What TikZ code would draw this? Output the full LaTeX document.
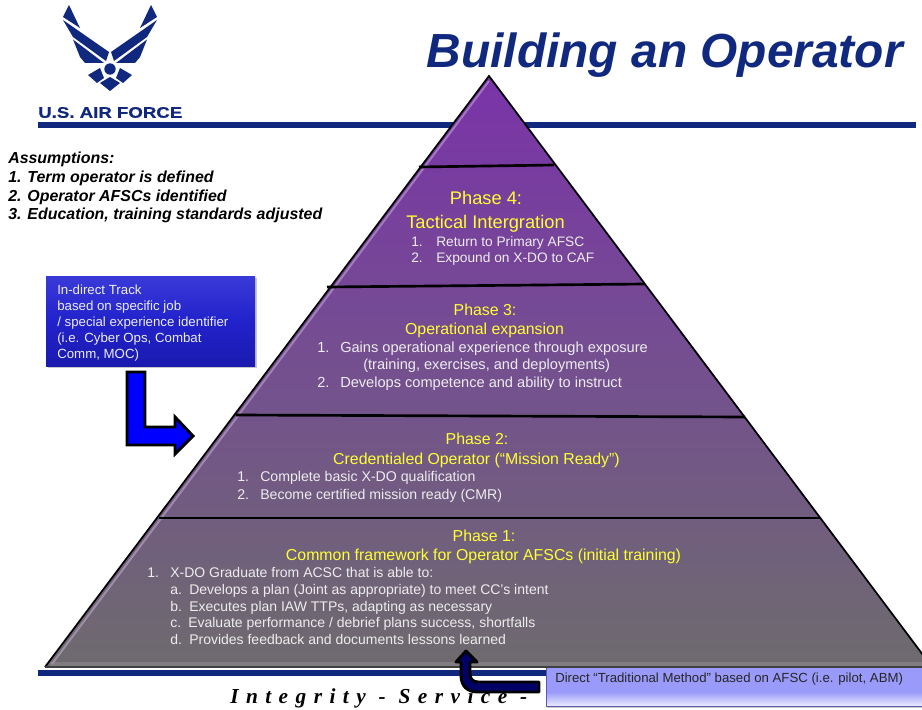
\documentclass[tikz,border=0pt]{standalone}
\usepackage{fontspec}
\setmainfont{Liberation Sans}
\newfontfamily\serifbi[LetterSpace=35,Ligatures=NoCommon]{Liberation Serif}
\newfontfamily\wide[FakeStretch=1.216,FakeBold=0.6]{Liberation Sans}
\usetikzlibrary{calc,shadings}
\definecolor{navy}{HTML}{10297F}
\definecolor{ptop}{HTML}{7A33A8}
\definecolor{pmid}{HTML}{74508F}
\definecolor{pbot}{HTML}{6E6B6E}
\definecolor{phaseyellow}{HTML}{FFFF33}
\definecolor{bodywhite}{HTML}{EDEDED}
\definecolor{itop}{HTML}{3A3AD8}
\definecolor{imid}{HTML}{2222CC}
\definecolor{ibot}{HTML}{1A1AB0}
\definecolor{dmain}{HTML}{9A9AFA}
\definecolor{dlow}{HTML}{ECECFF}
\tikzset{
  phasehead/.style={text=phaseyellow,anchor=center,inner sep=0pt,yshift=-2.25pt,text height=.72em,text depth=.2em,font=\fontsize{#1}{#1}\selectfont},
  bodytext/.style={text=bodywhite,anchor=west,inner sep=0pt,yshift=-1.5pt,text height=.72em,text depth=.2em,font=\fontsize{#1}{#1}\selectfont},
  assume/.style={anchor=west,inner sep=0pt,yshift=-1.9pt,text height=.72em,text depth=.2em,font=\fontsize{11.95pt}{11.95pt}\selectfont\bfseries\itshape},
  divider/.style={line width=2pt,black},
  blockarrow/.style={draw=black,line width=2.2pt,line join=miter},
  logoshape/.style={fill=navy,draw=none}
}
\begin{document}
\begin{tikzpicture}[x=0.75pt,y=-0.75pt]
\useasboundingbox (0,0) rectangle (922,710);
\fill[white] (0,0) rectangle (922,710);
% rules
\fill[navy] (38,122) rectangle (916,128);
\fill[navy] (38,670) rectangle (560,676);
% logo
\foreach \s in {1,-1}{
\begin{scope}[shift={(110,0)},xscale=\s]
 \fill[logoshape] (-41,5) -- (-47,17) -- (-30,28) -- cycle;
 \fill[logoshape] (-47,20) -- (-1,52) -- (-4,61) -- (-37,37) -- cycle;
 \fill[logoshape] (-37,39.5) -- (-6,63) -- (-25,63) -- (-30,57) -- cycle;
 \fill[logoshape] (-22,75) -- (-10,68) -- (-6,78) -- (-13,83) -- cycle;
\end{scope}}
\fill[logoshape] (110,69) circle (5.7);
\fill[logoshape] (110,77) -- (120,83) -- (110,91) -- (100,83) -- cycle;
\node[inner sep=0pt,anchor=west,text=navy,font=\wide\fontsize{11.5pt}{11.5pt}\selectfont\bfseries] (usaf) at (38,112.5) {U.S. AIR FORCE};
% title
\node[inner sep=0pt,anchor=east,text=navy,font=\fontsize{35.9pt}{35.9pt}\selectfont\bfseries\itshape] (title) at (903,55.5) {Building an Operator};
% assumptions
\node[assume] (a0) at (8,157) {Assumptions:};
\node[assume] (a1) at (8,176) {1. Term operator is defined};
\node[assume] (a2) at (8,195) {2. Operator AFSCs identified};
\node[assume] (a3) at (8,213.5) {3. Education, training standards adjusted};
% footer motto
\node[inner sep=0pt,anchor=west,font=\serifbi\fontsize{16pt}{16pt}\selectfont\bfseries\itshape] (motto) at (230,698) {Integrity - Service -};
% pyramid
\path[top color=ptop,bottom color=pbot,middle color=pmid] (489,76) -- (932,667) -- (45,667) -- cycle;
\draw[line width=1.3pt,black,line join=miter] (932,667) -- (489,76) -- (45,667);
\draw[line width=1.4pt,white!65!ptop,opacity=.5] (489,81) -- (52,664);
\draw[line width=1.5pt,black!75] (45,667) -- (932,667);
\draw[line width=3pt,black!40,opacity=.4] (50,664) -- (925,664);
\draw[divider] (419,167) -- (554,165);
\draw[divider] (327,287) -- (645,284);
\draw[divider] (236,415) -- (745,417);
\draw[divider] (159,518) -- (820,518);
% phase 4
\node[phasehead=13.7pt] (p4a) at (486,198) {Phase 4:};
\node[phasehead=13.7pt] (p4b) at (485.5,222) {Tactical Intergration};
\node[bodytext=10.3pt] (p4n1) at (411,241) {1.};
\node[bodytext=10.3pt] (p4t1) at (436,241) {Return to Primary AFSC};
\node[bodytext=10.3pt] (p4n2) at (411,257) {2.};
\node[bodytext=10.3pt] (p4t2) at (436,257) {Expound on X-DO to CAF};
% phase 3
\node[phasehead=11.9pt] (p3a) at (485,309) {Phase 3:};
\node[phasehead=11.9pt] (p3b) at (484.5,328) {Operational expansion};
\node[bodytext=10.95pt] (p3n1) at (317,347) {1.};
\node[bodytext=10.95pt] (p3t1) at (340,347) {Gains operational experience through exposure};
\node[bodytext=10.95pt] (p3t1b) at (363,364) {(training, exercises, and deployments)};
\node[bodytext=10.95pt] (p3n2) at (317,382) {2.};
\node[bodytext=10.95pt] (p3t2) at (340,382) {Develops competence and ability to instruct};
% phase 2
\node[phasehead=11.9pt] (p2a) at (477,438) {Phase 2:};
\node[phasehead=11.9pt] (p2b) at (476.5,458) {Credentialed Operator (“Mission Ready”)};
\node[bodytext=10.6pt] (p2n1) at (237,476) {1.};
\node[bodytext=10.6pt] (p2t1) at (260,476) {Complete basic X-DO qualification};
\node[bodytext=10.6pt] (p2n2) at (237,494) {2.};
\node[bodytext=10.6pt] (p2t2) at (260,494) {Become certified mission ready (CMR)};
% phase 1
\node[phasehead=11.9pt] (p1a) at (484,535) {Phase 1:};
\node[phasehead=11.9pt] (p1b) at (483.5,554) {Common framework for Operator AFSCs (initial training)};
\node[bodytext=10.5pt] (p1n) at (147,572) {1.};
\node[bodytext=10.5pt] (p1t) at (170,572) {X-DO Graduate from ACSC that is able to:};
\node[bodytext=10.5pt] (p1an) at (170,589) {a.};
\node[bodytext=10.5pt] (p1at) at (189,589) {Develops a plan (Joint as appropriate) to meet CC’s intent};
\node[bodytext=10.5pt] (p1bn) at (170,606) {b.};
\node[bodytext=10.5pt] (p1bt) at (189,606) {Executes plan IAW TTPs, adapting as necessary};
\node[bodytext=10.5pt] (p1cn) at (170,622) {c.};
\node[bodytext=10.5pt] (p1ct) at (188,622) {Evaluate performance / debrief plans success, shortfalls};
\node[bodytext=10.5pt] (p1dn) at (170,639) {d.};
\node[bodytext=10.5pt] (p1dt) at (189,639) {Provides feedback and documents lessons learned};
% indirect box
\fill[black,opacity=.22] (48,278) rectangle (257,368);
\path[top color=itop,bottom color=ibot,middle color=imid] (46,276) rectangle (255,366);
\node[inner sep=0pt,anchor=north west,align=left,text=bodywhite,font=\fontsize{9.95pt}{12.1pt}\selectfont] (indirect) at (57,284.5) {In-direct Track\\based on specific job\\/ special experience identifier\\(i.e. Cyber Ops, Combat\\Comm, MOC)};
% indirect arrow
\path[blockarrow,fill=blue] (127,372) -- (145,372) -- (145,427) -- (175,427) -- (175,417) -- (193,436) -- (175,454) -- (175,445) -- (127,445) -- cycle;
% direct arrow
\path[draw=black,line width=2.2pt,fill=blue!40!black,line join=round] (466,651) -- (477,662) -- (470,662) -- (470,674) .. controls (470,679) and (473,682) .. (478,682) -- (539,682) -- (539,692) -- (478,692) .. controls (467,692) and (461,686) .. (461,675) -- (461,662) -- (456,662) -- cycle;
% direct box
\fill[black,opacity=.2] (547,670) rectangle (924,708);
\fill[dmain] (546,668) rectangle (922,692);
\path[top color=dmain,bottom color=dlow] (546,692) rectangle (922,706);
\draw[blue!50!white!70!black,line width=.6pt] (546,668) -- (546,706) -- (922,706);
\node[inner sep=0pt,anchor=west,text=black!85,text height=.72em,text depth=.2em,font=\fontsize{9.9pt}{9.9pt}\selectfont] (direct) at (555,679) {Direct “Traditional Method” based on AFSC (i.e. pilot, ABM)};
\end{tikzpicture}
\end{document}
